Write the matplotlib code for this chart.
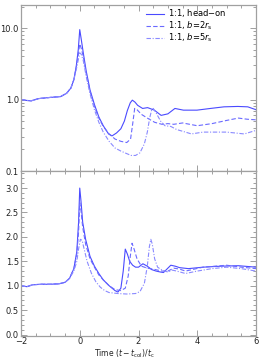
import matplotlib
matplotlib.use("Agg")
import matplotlib.pyplot as plt
from matplotlib.ticker import MultipleLocator, FixedLocator, LogLocator, NullFormatter

plt.rcParams['font.family'] = ['DejaVu Sans']

labels = ["1:1, head$-$on", "1:1, $b$=2$r_{\\rm s}$", "1:1, $b$=5$r_{\\rm s}$"]

# Top panel (log scale)
t_top_a = [-2, -1.8, -1.65, -1.4, -1.0, -0.65, -0.45, -0.3, -0.2, -0.12, -0.05, 0.0, 0.05, 0.12, 0.22, 0.35, 0.5, 0.65, 0.8, 0.98, 1.1, 1.25, 1.4, 1.52, 1.62, 1.72, 1.79, 1.88, 1.97, 2.14, 2.31, 2.54, 2.77, 3.0, 3.24, 3.53, 3.99, 4.45, 4.91, 5.38, 5.72, 6.0]
v_top_a = [1.0, 0.97, 0.96, 1.03, 1.07, 1.1, 1.22, 1.45, 1.9, 2.9, 5.0, 9.5, 7.0, 4.5, 2.5, 1.36, 0.85, 0.57, 0.43, 0.33, 0.31, 0.34, 0.39, 0.5, 0.7, 0.9, 0.98, 0.92, 0.83, 0.75, 0.77, 0.71, 0.6, 0.63, 0.75, 0.71, 0.71, 0.75, 0.79, 0.8, 0.79, 0.72]
t_top_b = [-2, -1.8, -1.65, -1.4, -1.0, -0.65, -0.45, -0.3, -0.2, -0.12, -0.05, 0.0, 0.05, 0.12, 0.22, 0.35, 0.5, 0.65, 0.8, 1.0, 1.2, 1.4, 1.6, 1.73, 1.8, 1.87, 1.95, 2.1, 2.3, 2.55, 2.8, 3.0, 3.2, 3.5, 4.0, 4.5, 5.0, 5.4, 5.7, 6.0]
v_top_b = [1.0, 0.97, 0.96, 1.03, 1.07, 1.1, 1.22, 1.45, 1.9, 2.8, 4.2, 6.0, 5.2, 4.0, 2.3, 1.3, 0.8, 0.55, 0.42, 0.33, 0.28, 0.26, 0.25, 0.28, 0.45, 0.75, 0.72, 0.62, 0.55, 0.48, 0.45, 0.46, 0.45, 0.47, 0.43, 0.46, 0.51, 0.55, 0.53, 0.52]
t_top_c = [-2, -1.8, -1.65, -1.4, -1.0, -0.65, -0.45, -0.3, -0.2, -0.12, -0.05, 0.0, 0.05, 0.12, 0.22, 0.35, 0.5, 0.65, 0.8, 1.0, 1.2, 1.4, 1.6, 1.75, 1.9, 2.05, 2.2, 2.3, 2.38, 2.45, 2.5, 2.6, 2.75, 2.9, 3.1, 3.3, 3.6, 3.8, 4.2, 4.6, 5.0, 5.3, 5.6, 6.0]
v_top_c = [1.0, 0.97, 0.96, 1.03, 1.07, 1.1, 1.22, 1.45, 1.9, 2.6, 3.6, 4.5, 4.3, 3.5, 2.1, 1.2, 0.72, 0.48, 0.35, 0.26, 0.21, 0.19, 0.175, 0.165, 0.165, 0.18, 0.24, 0.35, 0.55, 0.72, 0.75, 0.65, 0.5, 0.43, 0.42, 0.38, 0.35, 0.33, 0.35, 0.35, 0.35, 0.34, 0.33, 0.37]

# Bottom panel (linear)
t_bot_a = [-2, -1.8, -1.6, -1.3, -1.0, -0.7, -0.5, -0.35, -0.2, -0.1, -0.04, 0.0, 0.04, 0.1, 0.2, 0.35, 0.5, 0.65, 0.8, 1.0, 1.2, 1.3, 1.4, 1.48, 1.55, 1.62, 1.7, 1.8, 1.9, 2.0, 2.15, 2.3, 2.45, 2.6, 2.75, 2.85, 3.0, 3.1, 3.25, 3.4, 3.7, 4.2, 4.8, 5.4, 6.0]
v_bot_a = [1.0, 0.98, 1.02, 1.03, 1.03, 1.04, 1.07, 1.15, 1.35, 1.7, 2.3, 3.0, 2.75, 2.3, 1.95, 1.6, 1.4, 1.25, 1.12, 1.0, 0.9, 0.87, 0.95, 1.3, 1.75, 1.65, 1.5, 1.42, 1.38, 1.38, 1.45, 1.4, 1.33, 1.3, 1.28, 1.27, 1.36, 1.42, 1.4, 1.37, 1.35, 1.38, 1.4, 1.41, 1.38]
t_bot_b = [-2, -1.8, -1.6, -1.3, -1.0, -0.7, -0.5, -0.35, -0.2, -0.1, -0.04, 0.0, 0.04, 0.1, 0.2, 0.35, 0.5, 0.65, 0.8, 1.0, 1.2, 1.4, 1.55, 1.65, 1.72, 1.78, 1.85, 1.95, 2.1, 2.3, 2.5, 2.8, 3.0, 3.2, 3.4, 3.6, 4.2, 4.6, 5.0, 5.5, 6.0]
v_bot_b = [1.0, 0.98, 1.02, 1.03, 1.03, 1.04, 1.07, 1.15, 1.35, 1.65, 2.1, 2.7, 2.55, 2.2, 1.85, 1.55, 1.38, 1.22, 1.12, 1.0, 0.92, 0.9, 0.95, 1.2, 1.6, 1.87, 1.75, 1.55, 1.4, 1.36, 1.34, 1.3, 1.3, 1.36, 1.34, 1.3, 1.38, 1.4, 1.42, 1.38, 1.35]
t_bot_c = [-2, -1.8, -1.6, -1.3, -1.0, -0.7, -0.5, -0.35, -0.2, -0.1, -0.04, 0.02, 0.08, 0.15, 0.25, 0.4, 0.55, 0.7, 0.85, 1.0, 1.3, 1.6, 1.9, 2.05, 2.2, 2.3, 2.37, 2.42, 2.47, 2.55, 2.65, 2.8, 3.0, 3.15, 3.3, 3.6, 4.0, 4.5, 5.0, 5.5, 6.0]
v_bot_c = [1.0, 0.98, 1.02, 1.03, 1.03, 1.04, 1.07, 1.15, 1.3, 1.5, 1.75, 1.95, 1.93, 1.75, 1.5, 1.25, 1.08, 0.97, 0.9, 0.86, 0.84, 0.83, 0.84, 0.88, 1.05, 1.4, 1.8, 1.95, 1.85, 1.55, 1.38, 1.32, 1.28, 1.32, 1.3, 1.25, 1.3, 1.35, 1.38, 1.35, 1.3]

col_a = "#4a4aff"
col_b = "#6a6aff"
col_c = "#8a8aff"
frame_col = "#a0a0a0"
fs = 6

fig = plt.figure(figsize=(2.6, 3.6), dpi=100)
ax1 = fig.add_axes([21/260, 1 - 171/360, 235/260, 166/360])
ax2 = fig.add_axes([21/260, 1 - 336/360, 235/260, 165/360])

for ax in (ax1, ax2):
    for s in ax.spines.values():
        s.set_color(frame_col)
        s.set_linewidth(0.9)
    ax.tick_params(which='both', direction='in', top=True, right=True,
                   colors=frame_col, labelcolor='#222222', labelsize=fs, width=0.7)
    ax.tick_params(which='major', length=4)
    ax.tick_params(which='minor', length=2)
    ax.tick_params(axis='y', pad=1.5)
    ax.tick_params(axis='x', pad=1.0)
    ax.set_xlim(-2, 6)
    ax.xaxis.set_major_locator(MultipleLocator(2))
    ax.xaxis.set_minor_locator(MultipleLocator(0.5))

ax1.plot(t_top_a, v_top_a, color=col_a, lw=0.8, ls='-', label=labels[0])
ax1.plot(t_top_b, v_top_b, color=col_b, lw=0.8, ls=(0, (4, 2)), label=labels[1])
ax1.plot(t_top_c, v_top_c, color=col_c, lw=0.8, ls=(0, (4, 1.5, 1, 1.5)), label=labels[2])
ax1.set_yscale('log')
ax1.set_ylim(0.1, 21)
ax1.yaxis.set_major_locator(FixedLocator([0.1, 1.0, 10.0]))
ax1.yaxis.set_minor_locator(LogLocator(base=10, subs=range(2, 10)))
ax1.yaxis.set_minor_formatter(NullFormatter())
ax1.set_yticklabels(["0.1", "1.0", "10.0"])
ax1.tick_params(axis='x', labelbottom=False)
leg = ax1.legend(loc='upper left', bbox_to_anchor=(0.53, 0.985), frameon=False,
                 fontsize=fs, handlelength=2.2, handletextpad=0.5,
                 labelspacing=0.0, borderaxespad=0.0, borderpad=0.0)

ax2.plot(t_bot_a, v_bot_a, color=col_a, lw=0.8, ls='-')
ax2.plot(t_bot_b, v_bot_b, color=col_b, lw=0.8, ls=(0, (4, 2)))
ax2.plot(t_bot_c, v_bot_c, color=col_c, lw=0.8, ls=(0, (4, 1.5, 1, 1.5)))
ax2.set_ylim(-0.03, 3.35)
ax2.yaxis.set_major_locator(MultipleLocator(0.5))
ax2.yaxis.set_minor_locator(MultipleLocator(0.1))
ax2.yaxis.set_major_formatter(plt.FormatStrFormatter('%.1f'))
ax2.set_xticks([-2, 0, 2, 4, 6])
ax2.set_xticklabels(["\u22122", "0", "2", "4", "6"])

fig.text(0.48, 0.0, "Time $(t-t_{\\rm col})/t_{\\rm c}$", fontsize=5.5,
         ha='center', va='bottom', color='#222222')

fig.savefig("out.png", dpi=100)
